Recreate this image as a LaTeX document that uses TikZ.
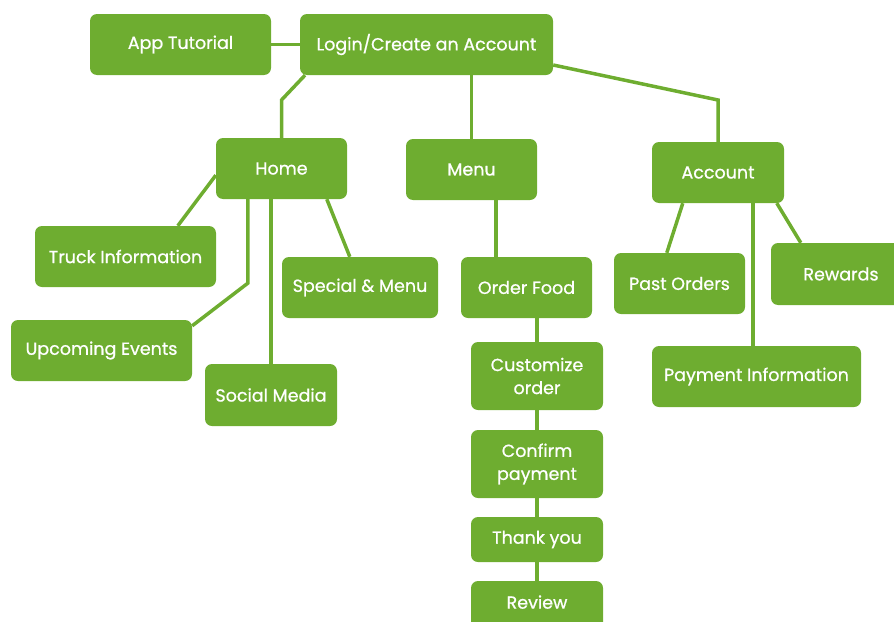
\documentclass[tikz,border=0pt]{standalone}
\usepackage{fontspec}
\setmainfont{Poppins}
\newfontfamily\boxfont{Poppins}[FakeBold=0.8]
\usetikzlibrary{calc}
\definecolor{grn}{RGB}{110,173,48}
\begin{document}
\begin{tikzpicture}[x=1pt,y=-1pt,
  box/.style={fill=grn, rounded corners=7pt, text=white, font=\boxfont\fontsize{17.5}{23}\selectfont, align=center, inner sep=0pt},
  link/.style={draw=grn, line width=3.5pt}]
\useasboundingbox (0,0) rectangle (894,621);
\coordinate (yl) at (0,100);
\coordinate (lh) at (305,75);
\coordinate (la) at (553,65);
% nodes
\node[box, minimum width=181pt, minimum height=61pt] (app) at (180.5,44.5) {App Tutorial};
\node[box, minimum width=253pt, minimum height=61pt] (login) at (426.5,44.5) {Login/Create an Account};
\node[box, minimum width=131pt, minimum height=61pt] (home) at (281.5,168.5) {Home};
\node[box, minimum width=131pt, minimum height=61pt] (menu) at (471.5,169.5) {Menu};
\node[box, minimum width=132pt, minimum height=61pt] (account) at (718,172.5) {Account};
\node[box, minimum width=181pt, minimum height=61pt] (truck) at (125.5,256.5) {Truck Information};
\node[box, minimum width=181pt, minimum height=61pt] (events) at (101.5,350.5) {Upcoming Events};
\node[box, minimum width=132pt, minimum height=62pt] (social) at (271,395) {Social Media};
\node[box, minimum width=156pt, minimum height=61pt] (special) at (360,287.5) {Special \& Menu};
\node[box, minimum width=131pt, minimum height=61pt] (order) at (526.5,287.5) {Order Food};
\node[box, minimum width=132pt, minimum height=68pt] (custom) at (537,376) {Customize\\order};
\node[box, minimum width=132pt, minimum height=68pt] (confirm) at (537,464) {Confirm\\payment};
\node[box, minimum width=132pt, minimum height=45pt] (thanks) at (537,539.5) {Thank you};
\node[box, minimum width=132pt, minimum height=60pt, text depth=18pt] (review) at (537,611) {Review};
\node[box, minimum width=131pt, minimum height=61pt] (past) at (679.5,283.5) {Past Orders};
\node[box, minimum width=140pt, minimum height=62pt] (rewards) at (841,274) {Rewards};
\node[box, minimum width=209pt, minimum height=61pt] (payinfo) at (756.5,376.5) {Payment Information};
% connectors
\draw[link] (app.east) -- (login.west);
\draw[link] (login.south west -| lh) -- (home.north |- yl) -- (home.north);
\draw[link] (login.south -| menu.north) -- (menu.north);
\draw[link] (login.east |- la) -- (account.north |- yl) -- (account.north);
\draw[link] ($(home.south west)+(0,-24)$) -- ($(truck.north west)+(143,0)$);
\draw[link] ($(home.south west)+(32,0)$) -- ($(home.south west)+(32,84)$) -- ($(events.north east)+(0,6)$);
\draw[link] (home.south -| social.north) -- (social.north);
\draw[link] ($(home.south west)+(111,0)$) -- ($(special.north west)+(68,0)$);
\draw[link] ($(menu.south west)+(90,0)$) -- ($(order.north west)+(35,0)$);
\draw[link] (order.south -| custom.north) -- (custom.north);
\draw[link] (custom.south) -- (confirm.north);
\draw[link] (confirm.south) -- (thanks.north);
\draw[link] (thanks.south) -- (review.north);
\draw[link] ($(account.south west)+(31,0)$) -- ($(past.north west)+(53,0)$);
\draw[link] ($(account.south west)+(101,0)$) -- ($(payinfo.north west)+(101,0)$);
\draw[link] ($(account.south west)+(125,0)$) -- ($(rewards.north west)+(30,0)$);
\end{tikzpicture}
\end{document}
